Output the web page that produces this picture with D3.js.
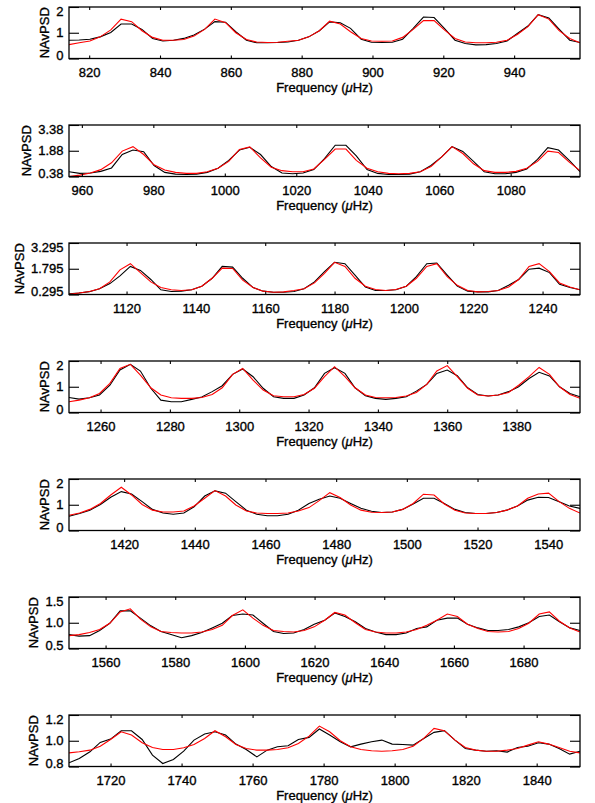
<!DOCTYPE html>
<html>
<head>
<meta charset="utf-8">
<script src="https://cdn.jsdelivr.net/npm/d3@7"></script>
<style>
body { margin: 0; background: #fff; }
text { font-family: "Liberation Sans", Arial, Helvetica, sans-serif; fill: #000; stroke: #000; stroke-width: 0.35px; }
</style>
</head>
<body>
<div id="chart"></div>
<script>
// Panel 1
const freqs1 = [814.3, 817.2, 820.2, 823.1, 826.1, 829.0, 832.0, 834.9, 837.9, 840.8, 843.8, 846.7, 849.6, 852.6, 855.5, 858.5, 861.4, 864.4, 867.3, 870.3, 873.2, 876.1, 879.1, 882.0, 885.0, 887.9, 890.9, 893.8, 896.8, 899.7, 902.7, 905.6, 908.5, 911.5, 914.4, 917.4, 920.3, 923.3, 926.2, 929.2, 932.1, 935.0, 938.0, 940.9, 943.9, 946.8, 949.8, 952.7, 955.7, 958.6];
const obs1 = [0.71, 0.72, 0.75, 0.84, 1.01, 1.34, 1.34, 1.13, 0.78, 0.68, 0.71, 0.78, 0.91, 1.14, 1.43, 1.41, 1.04, 0.71, 0.61, 0.61, 0.62, 0.64, 0.71, 0.84, 1.08, 1.42, 1.39, 1.17, 0.75, 0.63, 0.62, 0.63, 0.75, 1.17, 1.61, 1.59, 1.17, 0.71, 0.58, 0.53, 0.54, 0.58, 0.68, 0.97, 1.26, 1.70, 1.57, 1.14, 0.71, 0.62];
const fit1 = [0.54, 0.61, 0.68, 0.84, 1.11, 1.53, 1.43, 1.08, 0.82, 0.71, 0.71, 0.74, 0.87, 1.13, 1.53, 1.39, 1.00, 0.74, 0.64, 0.62, 0.63, 0.67, 0.71, 0.84, 1.08, 1.45, 1.34, 1.04, 0.78, 0.68, 0.67, 0.68, 0.82, 1.13, 1.47, 1.47, 1.11, 0.78, 0.64, 0.61, 0.61, 0.63, 0.71, 0.93, 1.24, 1.70, 1.53, 1.08, 0.78, 0.61];
const xTicks1 = [820, 840, 860, 880, 900, 920, 940];
const yTicks1 = [0, 1, 2];
const yLabels1 = ["0", "1", "2"];

// Panel 2
const freqs2 = [956.4, 959.4, 962.4, 965.3, 968.3, 971.3, 974.3, 977.3, 980.2, 983.2, 986.2, 989.2, 992.1, 995.1, 998.1, 1001.1, 1004.1, 1007.0, 1010.0, 1013.0, 1016.0, 1019.0, 1021.9, 1024.9, 1027.9, 1030.9, 1033.9, 1036.8, 1039.8, 1042.8, 1045.8, 1048.7, 1051.7, 1054.7, 1057.7, 1060.7, 1063.6, 1066.6, 1069.6, 1072.6, 1075.6, 1078.5, 1081.5, 1084.5, 1087.5, 1090.4, 1093.4, 1096.4, 1099.4];
const obs2 = [0.66, 0.56, 0.58, 0.68, 0.88, 1.66, 1.92, 1.82, 1.02, 0.62, 0.52, 0.50, 0.52, 0.62, 0.86, 1.32, 1.92, 2.08, 1.66, 0.96, 0.58, 0.54, 0.58, 0.78, 1.42, 2.20, 2.20, 1.58, 0.78, 0.56, 0.50, 0.50, 0.52, 0.66, 1.02, 1.52, 2.12, 1.84, 1.26, 0.66, 0.54, 0.54, 0.62, 0.82, 1.38, 2.06, 1.92, 1.32, 0.66];
const fit2 = [0.38, 0.46, 0.58, 0.78, 1.18, 1.86, 2.12, 1.66, 1.06, 0.76, 0.62, 0.56, 0.56, 0.66, 0.86, 1.26, 1.96, 2.10, 1.46, 0.92, 0.72, 0.66, 0.66, 0.82, 1.38, 1.98, 1.98, 1.32, 0.86, 0.66, 0.56, 0.54, 0.56, 0.66, 0.96, 1.52, 2.12, 1.72, 1.12, 0.72, 0.62, 0.62, 0.68, 0.86, 1.26, 1.86, 1.78, 1.22, 0.72];
const xTicks2 = [960, 980, 1000, 1020, 1040, 1060, 1080];
const yTicks2 = [0.38, 1.88, 3.38];
const yLabels2 = ["0.38", "1.88", "3.38"];

// Panel 3
const freqs3 = [1103.4, 1106.3, 1109.3, 1112.2, 1115.2, 1118.1, 1121.1, 1124.0, 1127.0, 1129.9, 1132.9, 1135.8, 1138.8, 1141.7, 1144.7, 1147.6, 1150.6, 1153.5, 1156.5, 1159.4, 1162.4, 1165.3, 1168.3, 1171.2, 1174.2, 1177.1, 1180.0, 1183.0, 1185.9, 1188.9, 1191.8, 1194.8, 1197.7, 1200.7, 1203.6, 1206.6, 1209.5, 1212.5, 1215.4, 1218.4, 1221.3, 1224.3, 1227.2, 1230.2, 1233.1, 1236.1, 1239.0, 1242.0, 1244.9, 1247.9, 1250.8];
const obs3 = [0.34, 0.38, 0.46, 0.63, 0.93, 1.38, 1.93, 1.70, 1.17, 0.57, 0.47, 0.49, 0.57, 0.78, 1.24, 1.93, 1.89, 1.24, 0.70, 0.49, 0.43, 0.43, 0.47, 0.63, 1.03, 1.63, 2.17, 2.09, 1.43, 0.73, 0.53, 0.53, 0.57, 0.78, 1.34, 2.09, 2.13, 1.43, 0.78, 0.49, 0.45, 0.45, 0.53, 0.83, 1.17, 1.77, 1.83, 1.57, 0.89, 0.70, 0.57];
const fit3 = [0.30, 0.38, 0.47, 0.63, 1.03, 1.73, 2.09, 1.57, 1.03, 0.70, 0.57, 0.53, 0.57, 0.78, 1.24, 1.83, 1.81, 1.13, 0.70, 0.49, 0.43, 0.45, 0.53, 0.63, 0.97, 1.53, 2.17, 1.93, 1.24, 0.78, 0.59, 0.53, 0.59, 0.78, 1.24, 1.93, 2.09, 1.33, 0.83, 0.53, 0.45, 0.47, 0.53, 0.73, 1.17, 1.93, 2.09, 1.63, 0.97, 0.73, 0.57];
const xTicks3 = [1120, 1140, 1160, 1180, 1200, 1220, 1240];
const yTicks3 = [0.295, 1.795, 3.295];
const yLabels3 = ["0.295", "1.795", "3.295"];

// Panel 4
const freqs4 = [1250.9, 1253.8, 1256.8, 1259.7, 1262.7, 1265.6, 1268.6, 1271.5, 1274.5, 1277.4, 1280.4, 1283.3, 1286.3, 1289.2, 1292.2, 1295.1, 1298.1, 1301.0, 1304.0, 1306.9, 1309.9, 1312.8, 1315.8, 1318.7, 1321.7, 1324.6, 1327.5, 1330.5, 1333.4, 1336.4, 1339.3, 1342.3, 1345.2, 1348.2, 1351.1, 1354.1, 1357.0, 1360.0, 1362.9, 1365.9, 1368.8, 1371.8, 1374.7, 1377.7, 1380.6, 1383.6, 1386.5, 1389.5, 1392.4, 1395.4, 1398.3];
const obs4 = [0.58, 0.52, 0.57, 0.68, 1.06, 1.65, 1.87, 1.61, 0.94, 0.48, 0.42, 0.42, 0.51, 0.60, 0.81, 1.04, 1.48, 1.69, 1.39, 0.94, 0.61, 0.55, 0.55, 0.68, 0.96, 1.52, 1.74, 1.52, 0.96, 0.65, 0.55, 0.51, 0.55, 0.61, 0.83, 1.09, 1.52, 1.65, 1.43, 0.96, 0.70, 0.64, 0.68, 0.81, 1.00, 1.32, 1.56, 1.42, 1.00, 0.74, 0.61];
const fit4 = [0.42, 0.48, 0.57, 0.74, 1.13, 1.71, 1.87, 1.45, 0.96, 0.68, 0.57, 0.55, 0.55, 0.58, 0.70, 0.96, 1.48, 1.71, 1.26, 0.87, 0.65, 0.61, 0.61, 0.70, 0.94, 1.39, 1.78, 1.39, 0.96, 0.68, 0.58, 0.57, 0.58, 0.64, 0.78, 1.09, 1.61, 1.82, 1.39, 0.94, 0.68, 0.64, 0.68, 0.78, 1.06, 1.39, 1.75, 1.48, 1.00, 0.70, 0.55];
const xTicks4 = [1260, 1280, 1300, 1320, 1340, 1360, 1380];
const yTicks4 = [0, 1, 2];
const yLabels4 = ["0", "1", "2"];

// Panel 5
const freqs5 = [1404.4, 1407.4, 1410.3, 1413.3, 1416.2, 1419.2, 1422.1, 1425.1, 1428.0, 1431.0, 1433.9, 1436.9, 1439.8, 1442.8, 1445.7, 1448.7, 1451.6, 1454.6, 1457.5, 1460.5, 1463.4, 1466.4, 1469.3, 1472.3, 1475.2, 1478.2, 1481.1, 1484.1, 1487.0, 1490.0, 1492.9, 1495.9, 1498.8, 1501.8, 1504.7, 1507.7, 1510.6, 1513.6, 1516.5, 1519.5, 1522.4, 1525.4, 1528.3, 1531.3, 1534.2, 1537.2, 1540.1, 1543.1, 1546.0, 1549.0];
const obs5 = [0.55, 0.66, 0.79, 1.01, 1.29, 1.51, 1.42, 1.12, 0.82, 0.68, 0.63, 0.68, 0.92, 1.34, 1.54, 1.45, 1.12, 0.79, 0.63, 0.57, 0.57, 0.63, 0.79, 1.05, 1.21, 1.34, 1.25, 1.05, 0.86, 0.75, 0.70, 0.72, 0.82, 1.03, 1.25, 1.25, 1.05, 0.82, 0.70, 0.66, 0.66, 0.70, 0.79, 0.95, 1.18, 1.29, 1.28, 1.12, 0.95, 0.86];
const fit5 = [0.59, 0.68, 0.82, 1.05, 1.38, 1.68, 1.38, 1.01, 0.79, 0.72, 0.72, 0.76, 0.95, 1.25, 1.55, 1.34, 0.99, 0.76, 0.68, 0.66, 0.66, 0.68, 0.76, 0.89, 1.16, 1.47, 1.28, 0.99, 0.79, 0.71, 0.70, 0.72, 0.82, 1.05, 1.41, 1.38, 1.03, 0.79, 0.68, 0.66, 0.66, 0.70, 0.79, 0.95, 1.25, 1.42, 1.45, 1.12, 0.86, 0.68];
const xTicks5 = [1420, 1440, 1460, 1480, 1500, 1520, 1540];
const yTicks5 = [0, 1, 2];
const yLabels5 = ["0", "1", "2"];

// Panel 6
const freqs6 = [1549.5, 1552.4, 1555.4, 1558.3, 1561.2, 1564.2, 1567.1, 1570.0, 1573.0, 1575.9, 1578.8, 1581.8, 1584.7, 1587.6, 1590.6, 1593.5, 1596.4, 1599.4, 1602.3, 1605.2, 1608.2, 1611.1, 1614.0, 1617.0, 1619.9, 1622.9, 1625.8, 1628.7, 1631.7, 1634.6, 1637.5, 1640.5, 1643.4, 1646.3, 1649.3, 1652.2, 1655.1, 1658.1, 1661.0, 1663.9, 1666.9, 1669.8, 1672.7, 1675.7, 1678.6, 1681.5, 1684.5, 1687.4, 1690.3, 1693.3, 1696.2];
const obs6 = [0.77, 0.74, 0.75, 0.85, 0.99, 1.23, 1.23, 1.09, 0.94, 0.83, 0.77, 0.71, 0.75, 0.81, 0.90, 0.99, 1.14, 1.17, 1.15, 0.99, 0.83, 0.79, 0.80, 0.87, 0.97, 1.05, 1.19, 1.12, 1.02, 0.89, 0.82, 0.77, 0.77, 0.80, 0.89, 0.92, 1.05, 1.09, 1.09, 0.97, 0.90, 0.85, 0.85, 0.87, 0.92, 1.00, 1.12, 1.15, 1.02, 0.90, 0.85];
const fit6 = [0.75, 0.77, 0.81, 0.87, 0.99, 1.21, 1.27, 1.07, 0.92, 0.83, 0.81, 0.80, 0.80, 0.82, 0.87, 0.95, 1.14, 1.25, 1.09, 0.95, 0.85, 0.83, 0.82, 0.85, 0.92, 1.05, 1.20, 1.15, 1.00, 0.87, 0.82, 0.80, 0.80, 0.82, 0.87, 0.95, 1.05, 1.17, 1.12, 0.97, 0.89, 0.83, 0.82, 0.83, 0.89, 0.99, 1.17, 1.21, 1.03, 0.90, 0.82];
const xTicks6 = [1560, 1580, 1600, 1620, 1640, 1660, 1680];
const yTicks6 = [0.5, 1.0, 1.5];
const yLabels6 = ["0.5", "1.0", "1.5"];

// Panel 7
const freqs7 = [1708.3, 1711.2, 1714.2, 1717.1, 1720.0, 1723.0, 1725.9, 1728.9, 1731.8, 1734.7, 1737.7, 1740.6, 1743.5, 1746.5, 1749.4, 1752.4, 1755.3, 1758.2, 1761.2, 1764.1, 1767.0, 1770.0, 1772.9, 1775.9, 1778.8, 1781.7, 1784.7, 1787.6, 1790.5, 1793.5, 1796.4, 1799.3, 1802.3, 1805.2, 1808.2, 1811.1, 1814.0, 1817.0, 1819.9, 1822.8, 1825.8, 1828.7, 1831.7, 1834.6, 1837.5, 1840.5, 1843.4, 1846.3, 1849.3, 1852.2];
const obs7 = [0.829, 0.862, 0.914, 0.987, 1.013, 1.078, 1.078, 1.010, 0.888, 0.823, 0.855, 0.919, 1.005, 1.052, 1.070, 1.044, 0.974, 0.932, 0.875, 0.927, 0.953, 0.961, 1.010, 1.026, 1.091, 1.044, 0.992, 0.953, 0.974, 0.992, 1.005, 0.974, 0.971, 0.966, 1.018, 1.065, 1.078, 1.005, 0.940, 0.927, 0.919, 0.922, 0.912, 0.948, 0.958, 0.984, 0.974, 0.940, 0.896, 0.919];
const fit7 = [0.906, 0.914, 0.927, 0.958, 1.010, 1.070, 1.044, 0.984, 0.948, 0.932, 0.932, 0.945, 0.971, 1.018, 1.078, 1.031, 0.971, 0.940, 0.927, 0.927, 0.932, 0.945, 0.979, 1.036, 1.114, 1.070, 1.000, 0.953, 0.932, 0.922, 0.919, 0.922, 0.932, 0.958, 1.018, 1.096, 1.078, 1.005, 0.948, 0.927, 0.919, 0.919, 0.927, 0.940, 0.966, 0.992, 0.974, 0.948, 0.919, 0.906];
const xTicks7 = [1720, 1740, 1760, 1780, 1800, 1820, 1840];
const yTicks7 = [0.8, 1.0, 1.2];
const yLabels7 = ["0.8", "1.0", "1.2"];

const panels = [
    {freqs: freqs1, obs: obs1, fit: fit1, xTicks: xTicks1, yTicks: yTicks1, yLabels: yLabels1},
    {freqs: freqs2, obs: obs2, fit: fit2, xTicks: xTicks2, yTicks: yTicks2, yLabels: yLabels2},
    {freqs: freqs3, obs: obs3, fit: fit3, xTicks: xTicks3, yTicks: yTicks3, yLabels: yLabels3},
    {freqs: freqs4, obs: obs4, fit: fit4, xTicks: xTicks4, yTicks: yTicks4, yLabels: yLabels4},
    {freqs: freqs5, obs: obs5, fit: fit5, xTicks: xTicks5, yTicks: yTicks5, yLabels: yLabels5},
    {freqs: freqs6, obs: obs6, fit: fit6, xTicks: xTicks6, yTicks: yTicks6, yLabels: yLabels6},
    {freqs: freqs7, obs: obs7, fit: fit7, xTicks: xTicks7, yTicks: yTicks7, yLabels: yLabels7}
];

const width = 595;
const height = 803;
const plotLeft = 69;
const plotRight = 580;
const firstTop = 7;
const panelStep = 118;
const plotH = 51.5;
const fontSize = 13;

const svg = d3.select("#chart").append("svg")
    .attr("width", width)
    .attr("height", height);

panels.forEach((p, i) => drawPanel(p, i));

// Function to draw one spectrum panel
function drawPanel(p, i) {
    const g = svg.append("g")
        .attr("transform", `translate(0,${firstTop + panelStep * i})`);

    const x = d3.scaleLinear()
        .domain([p.freqs[0], p.freqs[p.freqs.length - 1]])
        .range([plotLeft, plotRight]);

    const y = d3.scaleLinear()
        .domain([p.yTicks[0], p.yTicks[p.yTicks.length - 1]])
        .range([plotH, 0]);

    g.append("clipPath")
        .attr("id", `clip${i}`)
        .append("rect")
        .attr("x", plotLeft)
        .attr("y", 0)
        .attr("width", plotRight - plotLeft)
        .attr("height", plotH);

    const line = d3.line()
        .x((d, k) => x(p.freqs[k]))
        .y(d => y(d));

    g.append("path")
        .datum(p.obs)
        .attr("clip-path", `url(#clip${i})`)
        .attr("fill", "none")
        .attr("stroke", "#000")
        .attr("stroke-width", 1.1)
        .attr("d", line);

    g.append("path")
        .datum(p.fit)
        .attr("clip-path", `url(#clip${i})`)
        .attr("fill", "none")
        .attr("stroke", "#ff0000")
        .attr("stroke-width", 1.1)
        .attr("d", line);

    // bottom axis with labels, ticks point inward
    const xAxis = g.append("g")
        .attr("transform", `translate(0,${plotH})`)
        .call(d3.axisBottom(x).tickValues(p.xTicks).tickSize(-3).tickPadding(9).tickFormat(d3.format("d")));
    xAxis.select(".domain").remove();

    const xTop = g.append("g")
        .call(d3.axisTop(x).tickValues(p.xTicks).tickSize(-3).tickFormat(""));
    xTop.select(".domain").remove();

    // left axis, only the middle tick shows inside the box
    const yAxis = g.append("g")
        .attr("transform", `translate(${plotLeft},0)`)
        .call(d3.axisLeft(y).tickValues(p.yTicks).tickSize(-10).tickPadding(5.5)
            .tickFormat((d, k) => p.yLabels[k]));
    yAxis.select(".domain").remove();

    // end labels sit a little inside the frame
    yAxis.selectAll(".tick text")
        .attr("y", (d, k) => k === 0 ? -3.5 : (k === p.yTicks.length - 1 ? 4.5 : 0));

    const yRight = g.append("g")
        .attr("transform", `translate(${plotRight},0)`)
        .call(d3.axisRight(y).tickValues(p.yTicks).tickSize(-10).tickFormat(""));
    yRight.select(".domain").remove();

    g.selectAll(".tick line").attr("stroke", "#000").attr("stroke-width", 1.1);
    g.selectAll(".tick text")
        .style("font-size", fontSize + "px")
        .attr("fill", "#000");

    // frame
    g.append("rect")
        .attr("x", plotLeft)
        .attr("y", 0)
        .attr("width", plotRight - plotLeft)
        .attr("height", plotH)
        .attr("fill", "none")
        .attr("stroke", "#000")
        .attr("stroke-width", 1.3);

    // axis titles
    const xTitle = g.append("text")
        .attr("x", (plotLeft + plotRight) / 2)
        .attr("y", plotH + 33)
        .attr("text-anchor", "middle")
        .style("font-size", fontSize + "px");
    xTitle.append("tspan").text("Frequency (");
    xTitle.append("tspan").style("font-style", "italic").text("\u03BC");
    xTitle.append("tspan").text("Hz)");

    let labelLeft = plotLeft;
    yAxis.selectAll("text").each(function() {
        const b = this.getBBox();
        labelLeft = Math.min(labelLeft, b.x + plotLeft);
    });

    g.append("text")
        .attr("transform", `translate(${labelLeft - 7},${plotH / 2}) rotate(-90)`)
        .attr("text-anchor", "middle")
        .style("font-size", fontSize + "px")
        .text("NAvPSD");
}
</script>
</body>
</html>
